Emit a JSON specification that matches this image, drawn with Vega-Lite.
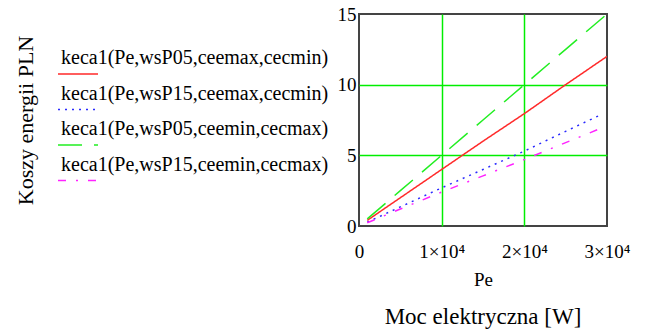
{
  "$schema": "https://vega.github.io/schema/vega-lite/v6.json",
  "width": 248,
  "height": 212,
  "autosize": {"type": "none"},
  "padding": {"left": 359, "top": 14, "right": 38, "bottom": 108},
  "background": "white",
  "title": {"text": "Moc elektryczna [W]", "orient": "bottom", "anchor": "middle", "font": "Liberation Serif", "fontSize": 23, "fontWeight": "normal", "color": "black", "offset": 17},
  "config": {"view": {"stroke": "#444444", "strokeWidth": 2}, "font": "Liberation Serif"},
  "data": {"values": [
    {"series": "keca1(Pe,wsP05,ceemax,cecmin)", "Pe": 1000, "v": 0.4},
    {"series": "keca1(Pe,wsP05,ceemax,cecmin)", "Pe": 5000, "v": 2.0},
    {"series": "keca1(Pe,wsP05,ceemax,cecmin)", "Pe": 10000, "v": 4.0},
    {"series": "keca1(Pe,wsP05,ceemax,cecmin)", "Pe": 15000, "v": 6.0},
    {"series": "keca1(Pe,wsP05,ceemax,cecmin)", "Pe": 20000, "v": 7.95},
    {"series": "keca1(Pe,wsP05,ceemax,cecmin)", "Pe": 25000, "v": 10.0},
    {"series": "keca1(Pe,wsP05,ceemax,cecmin)", "Pe": 30000, "v": 12.0},
    {"series": "keca1(Pe,wsP15,ceemax,cecmin)", "Pe": 1000, "v": 0.27},
    {"series": "keca1(Pe,wsP15,ceemax,cecmin)", "Pe": 5000, "v": 1.35},
    {"series": "keca1(Pe,wsP15,ceemax,cecmin)", "Pe": 10000, "v": 2.7},
    {"series": "keca1(Pe,wsP15,ceemax,cecmin)", "Pe": 15000, "v": 4.0},
    {"series": "keca1(Pe,wsP15,ceemax,cecmin)", "Pe": 20000, "v": 5.3},
    {"series": "keca1(Pe,wsP15,ceemax,cecmin)", "Pe": 25000, "v": 6.7},
    {"series": "keca1(Pe,wsP15,ceemax,cecmin)", "Pe": 29000, "v": 7.8},
    {"series": "keca1(Pe,wsP05,ceemin,cecmax)", "Pe": 1000, "v": 0.5},
    {"series": "keca1(Pe,wsP05,ceemin,cecmax)", "Pe": 5000, "v": 2.5},
    {"series": "keca1(Pe,wsP05,ceemin,cecmax)", "Pe": 10000, "v": 5.0},
    {"series": "keca1(Pe,wsP05,ceemin,cecmax)", "Pe": 15000, "v": 7.5},
    {"series": "keca1(Pe,wsP05,ceemin,cecmax)", "Pe": 20000, "v": 10.0},
    {"series": "keca1(Pe,wsP05,ceemin,cecmax)", "Pe": 25000, "v": 12.5},
    {"series": "keca1(Pe,wsP05,ceemin,cecmax)", "Pe": 30000, "v": 15.0},
    {"series": "keca1(Pe,wsP15,ceemin,cecmax)", "Pe": 1000, "v": 0.23},
    {"series": "keca1(Pe,wsP15,ceemin,cecmax)", "Pe": 5000, "v": 1.2},
    {"series": "keca1(Pe,wsP15,ceemin,cecmax)", "Pe": 10000, "v": 2.4},
    {"series": "keca1(Pe,wsP15,ceemin,cecmax)", "Pe": 15000, "v": 3.55},
    {"series": "keca1(Pe,wsP15,ceemin,cecmax)", "Pe": 20000, "v": 4.7},
    {"series": "keca1(Pe,wsP15,ceemin,cecmax)", "Pe": 25000, "v": 5.9},
    {"series": "keca1(Pe,wsP15,ceemin,cecmax)", "Pe": 29000, "v": 6.85}
  ]},
  "mark": {"type": "line", "strokeWidth": 1.5, "clip": true},
  "encoding": {
    "x": {
      "field": "Pe", "type": "quantitative",
      "scale": {"domain": [0, 30000], "nice": false},
      "axis": {
        "title": "Pe", "titleFont": "Liberation Serif", "titleFontSize": 19, "titleFontWeight": "normal", "titleColor": "black", "titlePadding": 9,
        "values": [0, 10000, 20000, 30000],
        "labelExpr": "datum.value == 0 ? '0' : format(datum.value / 10000, 'd') + '×10⁴'",
        "labelFont": "Liberation Serif", "labelFontSize": 19, "labelColor": "black", "labelPadding": 16, "labelFlush": false, "labelOverlap": false,
        "domain": false, "ticks": false,
        "gridColor": "#00ee00", "gridWidth": 1.5,
        "gridOpacity": {"condition": {"test": "datum.value == 0 || datum.value == 30000", "value": 0}, "value": 1}
      }
    },
    "y": {
      "field": "v", "type": "quantitative",
      "scale": {"domain": [0, 15], "nice": false},
      "axis": {
        "title": "Koszy energii PLN", "titleFont": "Liberation Serif", "titleFontSize": 22, "titleFontWeight": "normal", "titleColor": "black",
        "titleX": -334, "titleY": 106, "titleAngle": 270, "titleAlign": "center", "titleBaseline": "middle",
        "values": [0, 5, 10, 15],
        "labelFont": "Liberation Serif", "labelFontSize": 19, "labelColor": "black", "labelPadding": 3, "labelOverlap": false,
        "domain": false, "ticks": false,
        "gridColor": "#00ee00", "gridWidth": 1.5,
        "gridOpacity": {"condition": {"test": "datum.value == 0 || datum.value == 15", "value": 0}, "value": 1}
      }
    },
    "color": {
      "field": "series", "type": "nominal",
      "scale": {
        "domain": ["keca1(Pe,wsP05,ceemax,cecmin)", "keca1(Pe,wsP15,ceemax,cecmin)", "keca1(Pe,wsP05,ceemin,cecmax)", "keca1(Pe,wsP15,ceemin,cecmax)"],
        "range": ["#ff2a2a", "#2a2aff", "#22ee22", "#ff22ff"]
      },
      "legend": {
        "orient": "none", "legendX": -302, "legendY": 39, "title": null,
        "symbolType": "stroke", "symbolSize": 1600, "symbolStrokeWidth": 1.5,
        "labelFont": "Liberation Serif", "labelFontSize": 20, "labelColor": "black", "labelLimit": 0, "labelOffset": -38,
        "rowPadding": 6.5,
        "encode": {"labels": {"update": {"dy": {"value": -16}}}}
      }
    },
    "strokeDash": {
      "field": "series", "type": "nominal",
      "scale": {
        "domain": ["keca1(Pe,wsP05,ceemax,cecmin)", "keca1(Pe,wsP15,ceemax,cecmin)", "keca1(Pe,wsP05,ceemin,cecmax)", "keca1(Pe,wsP15,ceemin,cecmax)"],
        "range": [[1, 0], [2, 5], [24, 12], [8, 10, 2, 10]]
      }
    }
  }
}
